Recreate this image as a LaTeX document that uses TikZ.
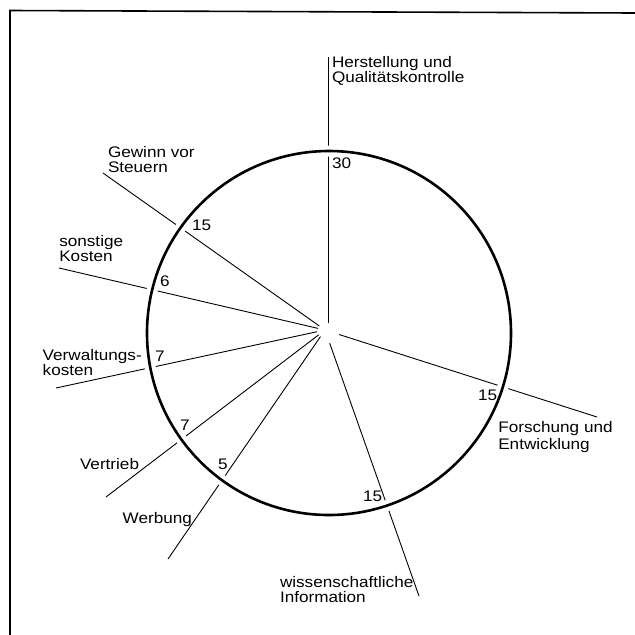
\documentclass[tikz,border=0pt]{standalone}
\usepackage{fontspec}
\setmainfont{Liberation Sans}[FakeStretch=1.12]
\usetikzlibrary{calc}
\begin{document}
\begin{tikzpicture}[x=1pt,y=-1pt,
  lbl/.style={anchor=base west, inner sep=0pt, outer sep=0pt, align=left,
              font=\fontsize{15.3}{15}\selectfont},
  spoke/.style={line width=0.9pt},
  ringgap/.style={draw=white, line width=11pt},
  ring/.style={draw=black, line width=2.6pt},
  frameline/.style={line width=1.6pt, line cap=rect}]
\useasboundingbox (0,0) rectangle (635,635);
% frame
\coordinate (fTL) at (10,10.5);
\coordinate (fTR) at (635,13);
\coordinate (fBL) at (10,635);
\draw[frameline] (fTR) -- (fTL) -- (fBL);
% hub and circle centre
\coordinate (H) at (325,330);
\coordinate (O) at (329,333);
% spoke ends
\coordinate (eHerT) at (328,57);
\coordinate (eHerB) at (328,323);
\coordinate (eGew) at (103,173);
\coordinate (eSon) at (59,268);
\coordinate (eVer) at (56,388);
\coordinate (eVt) at (106,497);
\coordinate (eWb) at (168,559);
\coordinate (eWi) at (419,596);
\coordinate (eFo) at (597,417);
% spokes
\draw[spoke] (eHerT) -- (eHerB);
\foreach \e/\d in {eGew/7,eSon/7,eVer/8,eVt/8,eWb/8,eWi/14,eFo/15}
  \draw[spoke] ($(H)!\d pt!(\e)$) -- (\e);
% ring with gaps
\path[ringgap] (O) circle[radius=182];
\path[ring] (O) circle[radius=182];
% labels (multi-line nodes: base = last line)
\node[lbl] (tHer) at (332,82.7) {Herstellung und\\Qualitätskontrolle};
\node[lbl] (n30) at (332,168.3) {30};
\node[lbl] (tGew) at (108,172.7) {Gewinn vor\\Steuern};
\node[lbl] (n15a) at (192,230) {15};
\node[lbl] (tSon) at (59.3,261.7) {sonstige\\Kosten};
\node[lbl] (n6) at (160,286) {6};
\node[lbl] (tVer) at (42.7,375.5) {Verwaltungs-\\kosten};
\node[lbl] (n7a) at (155,361.7) {7};
\node[lbl] (n7b) at (180,430.7) {7};
\node[lbl] (tVt) at (80,469) {Vertrieb};
\node[lbl] (n5) at (218,469) {5};
\node[lbl] (tWb) at (122.7,523) {Werbung};
\node[lbl] (n15b) at (478,400) {15};
\node[lbl] (tFo) at (498.3,449) {Forschung und\\[1.5pt]Entwicklung};
\node[lbl] (n15c) at (363,501.7) {15};
\node[lbl] (tWi) at (280,602.7) {wissenschaftliche\\Information};
\end{tikzpicture}
\end{document}
